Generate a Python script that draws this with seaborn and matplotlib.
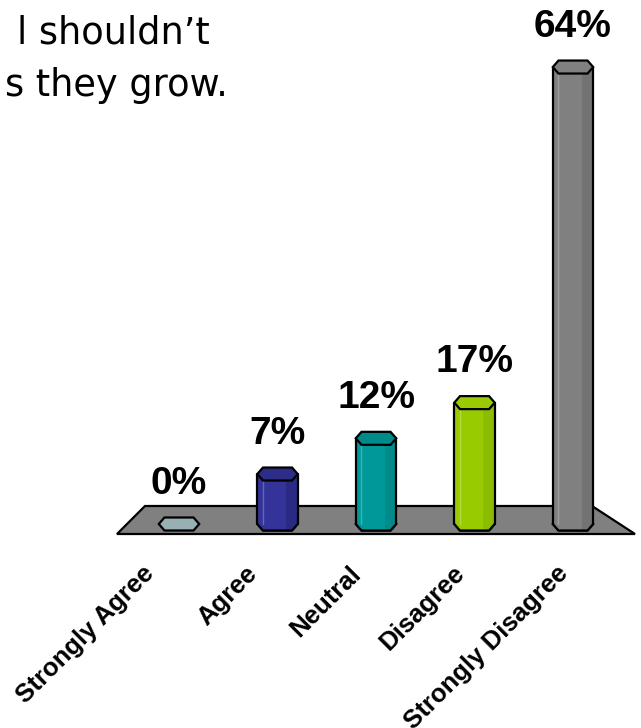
import matplotlib
matplotlib.use("Agg")
import matplotlib.pyplot as plt
from matplotlib.patches import Polygon
import numpy as np
import pandas as pd
import seaborn as sns

# Survey responses (percent of respondents)
categories = ["Strongly Agree", "Agree", "Neutral", "Disagree", "Strongly Disagree"]
values = [0, 7, 12, 17, 64]
value_labels = ["0%", "7%", "12%", "17%", "64%"]
face_colors = ["#96B0B4", "#333399", "#009999", "#99CC00", "#808080"]
shade_colors = ["#86a0a4", "#2a2a85", "#008a8a", "#8cbc00", "#737373"]
top_colors = ["#96B0B4", "#2d2d88", "#008b8b", "#99CC00", "#808080"]
title_lines = ["l shouldn\u2019t", "s they grow."]

W, H = 641, 728
sns.set_theme(style="white")
plt.rcParams["font.family"] = ["Liberation Sans", "DejaVu Sans"]
plt.rcParams["text.color"] = "black"

fig = plt.figure(figsize=(W / 100, H / 100), dpi=100)
ax = fig.add_axes([0, 0, 1, 1])

# data scale: one category step ~98.5 px, one percent ~7.14 px
x0_px, step_px = 179, 98.5
base_px, pct_px = 524, 7.14
xlim = (-x0_px / step_px, (W - x0_px) / step_px)
ylim = (-(H - base_px) / pct_px, base_px / pct_px)

def frac(px, py):
    return px / W, 1 - py / H

# floor of the 3-D chart
floor = Polygon([frac(117, 534), frac(635, 534), frac(592, 506), frac(145, 506)],
                closed=True, transform=ax.transAxes, facecolor="#808080",
                edgecolor="black", linewidth=1.6, zorder=1)
ax.add_patch(floor)

df = pd.DataFrame({"category": categories, "value": values})
bw = 0.41
sns.barplot(data=df, x="category", y="value", hue="category", palette=face_colors,
            saturation=1, width=bw, linewidth=0, legend=False, ax=ax, zorder=3)
ax.set_xlim(*xlim)
ax.set_ylim(*ylim)
ax.axis("off")

hh = 6.5 / pct_px  # half height of the prism cap
ins = 0.14 * bw

def cap(xc, yc):
    return [(xc - bw / 2, yc), (xc - bw / 2 + ins, yc + hh), (xc + bw / 2 - ins, yc + hh),
            (xc + bw / 2, yc), (xc + bw / 2 - ins, yc - hh), (xc - bw / 2 + ins, yc - hh)]

for i, v in enumerate(values):
    # bottom cap
    ax.add_patch(Polygon(cap(i, 0), closed=True, facecolor=face_colors[i],
                         edgecolor="black", linewidth=1.6, zorder=2))
    if v > 0:
        # darker right facet
        ax.bar(i + bw * 0.36, v, width=bw * 0.28, color=shade_colors[i],
               linewidth=0, zorder=3.5)
        ax.plot([i - bw * 0.36, i - bw * 0.36], [0, v], color="white", alpha=0.25,
                lw=1, zorder=3.6)
        # lower facet so the foot of the prism looks rounded
        ax.add_patch(Polygon([(i - bw / 2, 0), (i + bw / 2, 0), (i + bw / 2 - ins, -hh),
                              (i - bw / 2 + ins, -hh)], closed=True,
                             facecolor=face_colors[i], edgecolor="none", zorder=3.4))
        ax.add_patch(Polygon([(i + bw * 0.22, 0), (i + bw / 2, 0), (i + bw / 2 - ins, -hh),
                              (i + bw * 0.22, -hh)], closed=True,
                             facecolor=shade_colors[i], edgecolor="none", zorder=3.5))
        ax.plot([i - bw / 2, i - bw / 2 + ins, i + bw / 2 - ins, i + bw / 2],
                [0, -hh, -hh, 0], color="black", lw=1.6, zorder=4)
        ax.plot([i - bw / 2, i - bw / 2], [0, v], color="black", lw=1.6, zorder=4)
        ax.plot([i + bw / 2, i + bw / 2], [0, v], color="black", lw=1.6, zorder=4)
        ax.add_patch(Polygon(cap(i, v), closed=True, facecolor=top_colors[i],
                             edgecolor="black", linewidth=1.6, zorder=5))
    ax.annotate(value_labels[i], (i, v), xytext=(0, 29), textcoords="offset points",
                ha="center", va="center", fontsize=28, fontweight="bold", zorder=6)

# category labels sit on a slightly wider pitch than the prisms
label_pitch_px = 103.7
for i, name in enumerate(categories):
    lx = (150 + label_pitch_px * i - x0_px) / step_px
    ax.text(lx, -46 / pct_px, name, rotation=45, rotation_mode="anchor",
            ha="right", va="center", fontsize=18.5, fontweight="bold")

fig.text(228 / W, 1 - 96 / H, title_lines[1], ha="right", va="baseline",
         fontsize=26.5, family="DejaVu Sans")
fig.text(210 / W, 1 - 44 / H, title_lines[0], ha="right", va="baseline",
         fontsize=26.5, family="DejaVu Sans")

fig.savefig("out.png", dpi=100)
